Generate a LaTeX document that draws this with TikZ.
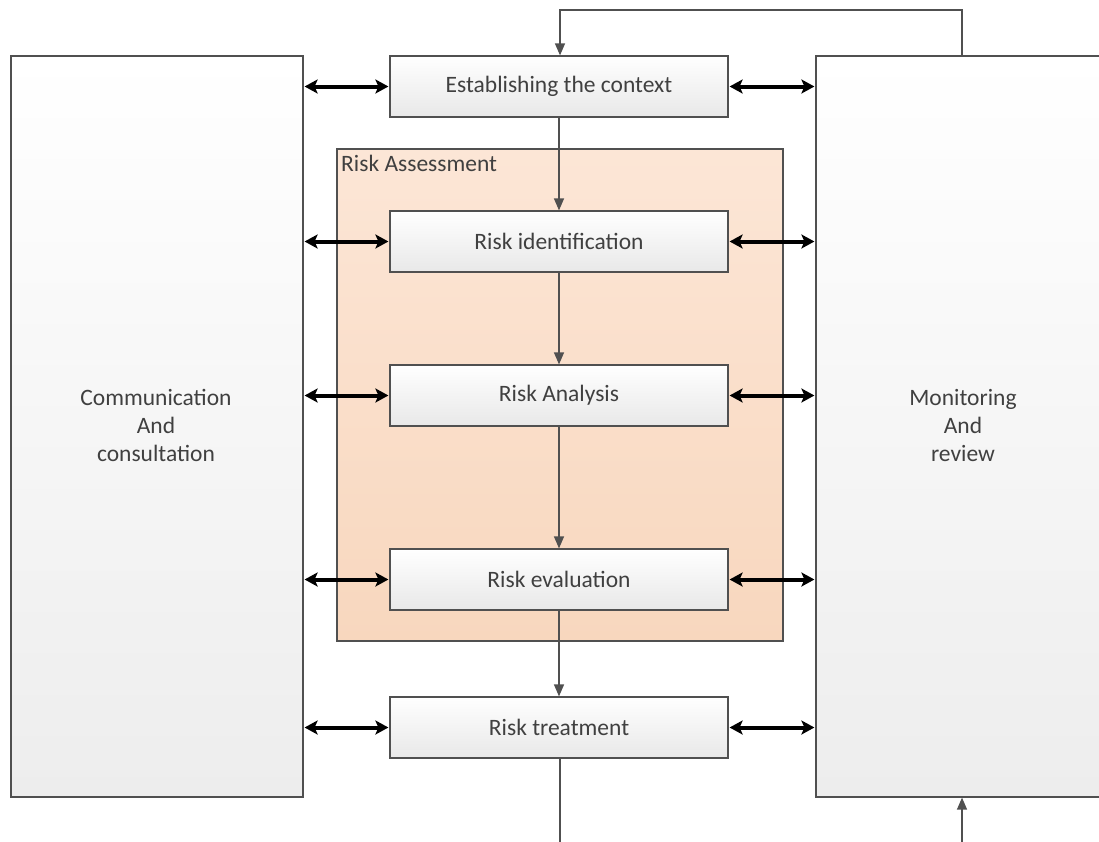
\documentclass[tikz,border=0pt]{standalone}
\usepackage{fontspec}
\setmainfont{Carlito}
\usetikzlibrary{arrows.meta,positioning}
\definecolor{edge}{HTML}{505050}
\definecolor{boxtop}{HTML}{FFFFFF}
\definecolor{boxbot}{HTML}{E8E8E8}
\definecolor{sidebot}{HTML}{EDEDED}
\definecolor{peach}{HTML}{FCE6D6}
\definecolor{peachdark}{HTML}{F8D7BE}
\definecolor{txt}{HTML}{404040}
\tikzset{
  label font/.style={font=\fontsize{23.5}{28}\selectfont},
  stepbox/.style={draw=edge, line width=1.2pt, top color=boxtop, bottom color=boxbot,
    minimum width=338pt, minimum height=61pt, inner sep=0pt, text=txt, label font},
  sidebox/.style={draw=edge, line width=1.2pt, top color=boxtop, bottom color=sidebot,
    inner sep=0pt, text=txt, align=center, label font},
  flow/.style={draw=edge, line width=1.3pt, -{Triangle[length=12pt,width=10pt]}},
  talk/.style={draw=black, line width=4pt, {Stealth[length=13pt,width=14pt,inset=3pt]}-{Stealth[length=13pt,width=14pt,inset=3pt]}, shorten <=1pt, shorten >=1pt},
}
\begin{document}
\begin{tikzpicture}[x=1pt,y=-1pt]
\useasboundingbox (0,0) rectangle (1099,841);

% side panels
\node[sidebox, minimum width=292pt, minimum height=741pt] (comm) at (157,426.5) {};
\node[text=txt, align=center, label font] (commtext) at (156,425) {Communication\\And\\consultation};
\node[sidebox, minimum width=300pt, minimum height=741pt] (mon) at (966,426.5) {};
\node[text=txt, align=center, label font] (montext) at (963,425) {Monitoring\\And\\review};

% risk assessment frame
\node[draw=edge, line width=1.2pt, top color=peach, bottom color=peachdark, minimum width=446pt, minimum height=492pt, inner sep=0pt] (ra) at (560,395) {};
\node[anchor=north west, text=txt, label font, inner sep=0pt] (ralabel) at (341,155) {Risk Assessment};

% process steps
\node[stepbox] (ctx) at (559,86.5) {Establishing the context};
\node[stepbox] (ident) at (559,241.5) {Risk identification};
\node[stepbox] (anal) at (559,395.5) {Risk Analysis};
\node[stepbox] (eval) at (559,579.5) {Risk evaluation};
\node[stepbox] (treat) at (559,727.5) {Risk treatment};

% main flow
\draw[flow] (ctx) -- (ident);
\draw[flow] (ident) -- (anal);
\draw[flow] (anal) -- (eval);
\draw[flow] (eval) -- (treat);

% feedback loops
\coordinate (topR) at (962,10);
\coordinate (topL) at (560,10);
\draw[flow] (mon.north -| topR) -- (topR) -- (topL) -- (ctx.north -| topL);
\coordinate (botL) at (560,845);
\coordinate (botR) at (962,845);
\draw[draw=edge, line width=1.3pt] (treat.south -| botL) -- (botL);
\draw[flow] (botR) -- (mon.south -| botR);

% communication and monitoring links
\foreach \n in {ctx,ident,anal,eval,treat}{
  \draw[talk] (comm.east |- \n.west) -- (\n.west);
  \draw[talk] (\n.east) -- (mon.west |- \n.east);
}
\end{tikzpicture}
\end{document}
